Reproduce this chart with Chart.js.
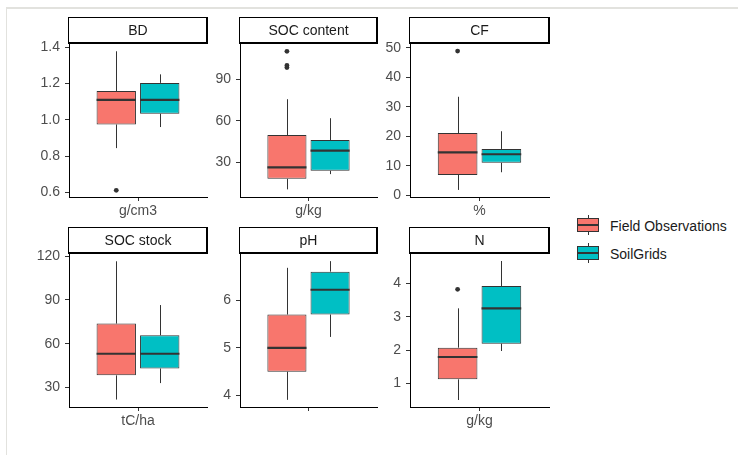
<!DOCTYPE html>
<html>
<head>
<meta charset="utf-8">
<script src="https://cdn.jsdelivr.net/npm/chart.js@4.4.1/dist/chart.umd.min.js"></script>
<style>
  body { margin: 0; background: #fff; font-family: "Liberation Sans", Arial, sans-serif; }
  #wrap { position: relative; width: 738px; height: 455px; overflow: hidden; }
  #frame { position: absolute; left: 6px; top: 7px; right: 0; bottom: 0; border-top: 2px solid #e2e2de; border-left: 1px solid #e2e2de; }
  canvas { position: absolute; }
  .key { position: absolute; left: 577px; width: 22px; height: 14px; border: 1px solid #333; box-sizing: border-box; }
  .key::before { content: ""; position: absolute; left: 10px; top: -4px; width: 1px; height: 20px; background: #333; z-index: -1; }
  .key::after { content: ""; position: absolute; left: 0; right: 0; top: 5px; height: 2px; background: #333; }
  .lab { position: absolute; left: 610px; font-size: 14px; color: #1a1a1a; line-height: 16px; }
</style>
</head>
<body>
<div id="wrap">
  <div id="frame"></div>
  <div class="key" style="top:218px;background:#F8766D"></div>
  <div class="lab" style="top:218px">Field Observations</div>
  <div class="key" style="top:246px;background:#00BFC4"></div>
  <div class="lab" style="top:246px">SoilGrids</div>
</div>
<script>
const panels = ['BD', 'SOC content', 'CF', 'SOC stock', 'pH', 'N'];
const units = ['g/cm3', 'g/kg', '%', 'tC/ha', '', 'g/kg'];
const groups = ['Field Observations', 'SoilGrids'];

// [lower whisker, Q1, median, Q3, upper whisker]
const fieldStats = [
  [0.845, 0.975, 1.111, 1.159, 1.378],
  [10.5, 18.1, 26.4, 49.7, 75.5],
  [1.8, 6.9, 14.55, 21.1, 33.4],
  [21.7, 38.3, 53.1, 73.8, 116.5],
  [3.91, 4.50, 5.00, 5.70, 6.68],
  [0.50, 1.12, 1.79, 2.07, 3.25]
];
const gridStats = [
  [0.961, 1.034, 1.111, 1.204, 1.251],
  [21.5, 23.9, 38.4, 46.1, 61.8],
  [7.8, 11.0, 13.9, 15.7, 21.7],
  [33.0, 43.0, 53.1, 65.8, 86.5],
  [5.23, 5.70, 6.22, 6.60, 6.82],
  [1.97, 2.19, 3.25, 3.92, 4.67]
];
const fieldOutliers = [[0.613], [98.3, 99.8, 110], [48.9], [], [], [3.82]];
const gridOutliers = [[], [], [], [], [], []];

const yMin = [0.576, 5.0, -0.6, 16.6, 3.76, 0.29];
const yMax = [1.418, 115.3, 51.3, 121.5, 6.97, 4.88];
const yTicks = [
  [0.6, 0.8, 1.0, 1.2, 1.4],
  [30, 60, 90],
  [0, 10, 20, 30, 40, 50],
  [30, 60, 90, 120],
  [4, 5, 6],
  [1, 2, 3, 4]
];
const yDecimals = [1, 0, 0, 0, 0, 0];

const colors = ['#F8766D', '#00BFC4'];
const dark = '#333333';

// panel placement (plot area edges)
const colLeft = [69, 240, 410];
const colRight = [207, 377, 549];
const rowStripTop = [17, 227];
const rowBottom = [197, 407];
const stripH = 27;

const boxPlugin = {
  id: 'boxplot',
  beforeDraw(chart) {
    const ctx = chart.ctx, a = chart.chartArea;
    const top = a.top - stripH;
    ctx.save();
    ctx.fillStyle = '#fff';
    ctx.fillRect(a.left - 1, top, a.right - a.left + 1, stripH);
    ctx.strokeStyle = '#000';
    ctx.lineWidth = 1;
    ctx.strokeRect(a.left - 0.5, top + 0.5, a.right - a.left, stripH - 1);
    ctx.fillStyle = '#000';
    ctx.fillRect(a.right - 1, top, 2, stripH);
    ctx.fillRect(a.left - 1, a.top - 2, a.right - a.left + 2, 2);
    ctx.fillStyle = '#1a1a1a';
    ctx.font = '14px "Liberation Sans", Arial, sans-serif';
    ctx.textAlign = 'center';
    ctx.textBaseline = 'middle';
    ctx.fillText(chart.options.plugins.boxplot.title, (a.left + a.right) / 2, top + stripH / 2 + 1);
    ctx.restore();
  },
  afterDatasetsDraw(chart) {
    const ctx = chart.ctx, y = chart.scales.y;
    const o = chart.options.plugins.boxplot;
    ctx.save();
    chart.data.datasets.forEach((ds, d) => {
      const bar = chart.getDatasetMeta(d).data[0];
      const s = o.stats[d];
      const x = Math.round(bar.x) + 0.5;
      const half = bar.width / 2;
      ctx.strokeStyle = dark;
      ctx.lineWidth = 1;
      ctx.beginPath();
      ctx.moveTo(x, y.getPixelForValue(s[3]));
      ctx.lineTo(x, y.getPixelForValue(s[4]));
      ctx.moveTo(x, y.getPixelForValue(s[1]));
      ctx.lineTo(x, y.getPixelForValue(s[0]));
      ctx.stroke();
      ctx.lineWidth = 2.2;
      ctx.beginPath();
      const my = y.getPixelForValue(s[2]);
      ctx.moveTo(bar.x - half, my);
      ctx.lineTo(bar.x + half, my);
      ctx.stroke();
      ctx.fillStyle = dark;
      o.outliers[d].forEach(v => {
        ctx.beginPath();
        ctx.arc(bar.x, y.getPixelForValue(v), 2.4, 0, Math.PI * 2);
        ctx.fill();
      });
    });
    ctx.restore();
  }
};

const font = { family: '"Liberation Sans", Arial, sans-serif', size: 14 };
const wrap = document.getElementById('wrap');

panels.forEach((name, i) => {
  const c = i % 3, r = Math.floor(i / 3);
  const canvas = document.createElement('canvas');
  const left = colLeft[c] - 50;
  const top = rowStripTop[r] - 2;
  canvas.width = colRight[c] - colLeft[c] + 52;
  canvas.height = rowBottom[r] - top + 28;
  canvas.style.left = left + 'px';
  canvas.style.top = top + 'px';
  wrap.appendChild(canvas);

  const stats = [fieldStats[i], gridStats[i]];
  new Chart(canvas, {
    type: 'bar',
    data: {
      labels: [units[i]],
      datasets: groups.map((g, d) => ({
        label: g,
        data: [[stats[d][1], stats[d][3]]],
        backgroundColor: colors[d],
        borderColor: dark,
        borderWidth: 1,
        borderSkipped: false,
        categoryPercentage: 0.63,
        barPercentage: 0.906
      }))
    },
    options: {
      responsive: false,
      animation: false,
      events: [],
      layout: { padding: { top: 2 + stripH, right: 2, left: 0, bottom: 0 } },
      plugins: {
        legend: { display: false },
        tooltip: { enabled: false },
        boxplot: { title: name, stats: stats, outliers: [fieldOutliers[i], gridOutliers[i]] }
      },
      scales: {
        x: {
          afterFit: s => { s.height = 28; },
          grid: { offset: false, drawOnChartArea: false, drawTicks: true, tickLength: 4, color: dark },
          border: { display: true, color: '#000', width: 1 },
          ticks: { color: '#4d4d4d', font: font, padding: 2 }
        },
        y: {
          min: yMin[i],
          max: yMax[i],
          afterFit: s => { s.width = 50; },
          afterBuildTicks: s => { s.ticks = yTicks[i].map(v => ({ value: v })); },
          grid: { drawOnChartArea: false, drawTicks: true, tickLength: 4, color: dark },
          border: { display: true, color: '#000', width: 1 },
          ticks: {
            color: '#4d4d4d', font: font, padding: 5,
            callback: v => Number(v).toFixed(yDecimals[i])
          }
        }
      }
    },
    plugins: [boxPlugin]
  });
});
</script>
</body>
</html>
